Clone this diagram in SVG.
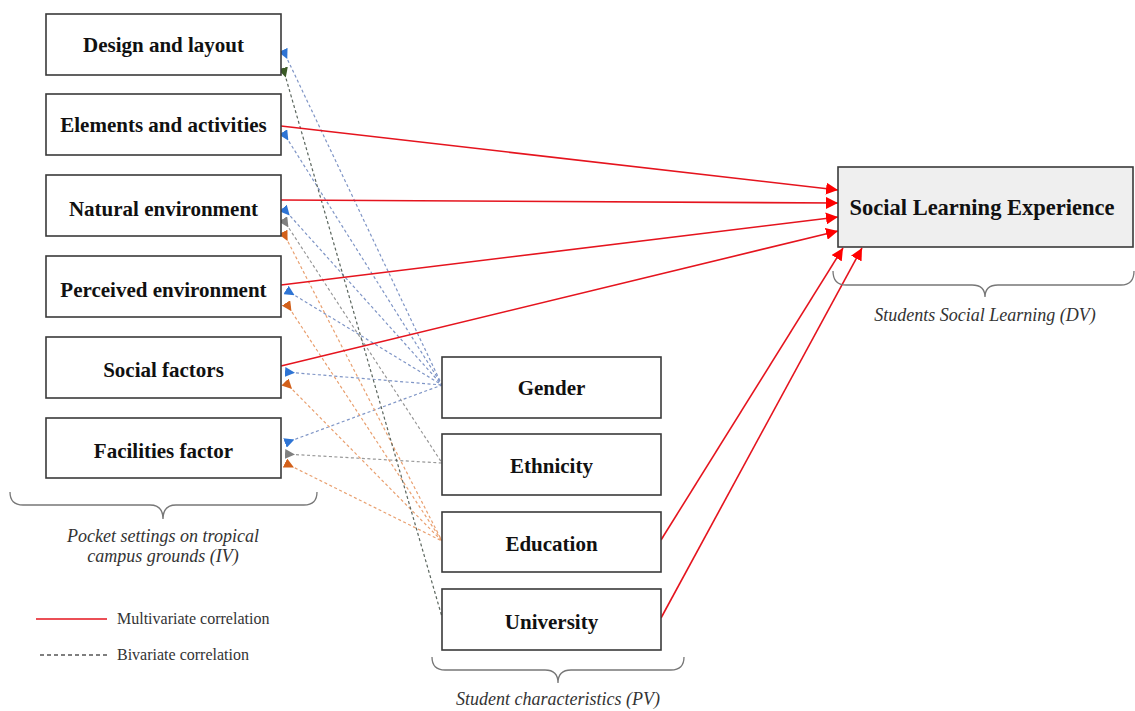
<svg xmlns="http://www.w3.org/2000/svg" width="1135" height="711" viewBox="0 0 1135 711">
<style>
.box{fill:#fff;stroke:#3a3a3a;stroke-width:1.6}
.dv{fill:#efefef;stroke:#3a3a3a;stroke-width:1.6}
.lbl{font-family:"Liberation Serif","Times New Roman",serif;font-weight:bold;font-size:21px;fill:#111;text-anchor:middle}
.big{font-size:22.5px}
.it{font-family:"Liberation Serif","Times New Roman",serif;font-style:italic;font-size:18px;fill:#333;text-anchor:middle}
.leg{font-family:"Liberation Serif","Times New Roman",serif;font-size:16px;fill:#333}
.brace{fill:none;stroke:#777;stroke-width:1.3}
.red{stroke:#e5141e;stroke-width:1.6;fill:none;marker-end:url(#ar)}
.d{fill:none;stroke-width:1.2;stroke-dasharray:3 2.5}
.b{stroke:#7f95c6;marker-start:url(#mb)}
.g{stroke:#999;marker-start:url(#mg)}
.o{stroke:#e9a070;marker-start:url(#mo)}
.k{stroke:#5b665e;marker-start:url(#mk)}
</style>
<defs>
<marker id="ar" viewBox="0 0 10 10" refX="10" refY="5" markerWidth="12" markerHeight="12" markerUnits="userSpaceOnUse" orient="auto"><path d="M0,0L10,5L0,10z" fill="#ff0000"/></marker>
<marker id="mb" viewBox="0 0 10 10" refX="0" refY="5" markerWidth="10" markerHeight="10" markerUnits="userSpaceOnUse" orient="auto"><path d="M0,0L10,5L0,10z" fill="#2e74d4"/></marker>
<marker id="mg" viewBox="0 0 10 10" refX="0" refY="5" markerWidth="10" markerHeight="10" markerUnits="userSpaceOnUse" orient="auto"><path d="M0,0L10,5L0,10z" fill="#7f7f7f"/></marker>
<marker id="mo" viewBox="0 0 10 10" refX="0" refY="5" markerWidth="10" markerHeight="10" markerUnits="userSpaceOnUse" orient="auto"><path d="M0,0L10,5L0,10z" fill="#d2601a"/></marker>
<marker id="mk" viewBox="0 0 10 10" refX="0" refY="5" markerWidth="10" markerHeight="10" markerUnits="userSpaceOnUse" orient="auto"><path d="M0,0L10,5L0,10z" fill="#3b5a26"/></marker>
</defs>
<rect width="1135" height="711" fill="#fff"/>

<g id="connectors">
<line class="d b" x1="283" y1="50" x2="442" y2="385"/>
<line class="d b" x1="283" y1="132" x2="442" y2="385"/>
<line class="d b" x1="283" y1="208" x2="442" y2="385"/>
<line class="d b" x1="286" y1="290" x2="442" y2="385"/>
<line class="d b" x1="285" y1="372" x2="442" y2="385"/>
<line class="d b" x1="285" y1="443" x2="442" y2="385"/>
<line class="d g" x1="283" y1="219" x2="442" y2="463"/>
<line class="d g" x1="285" y1="454" x2="442" y2="463"/>
<line class="d o" x1="283" y1="232" x2="442" y2="541"/>
<line class="d o" x1="286" y1="303" x2="442" y2="541"/>
<line class="d o" x1="285" y1="382" x2="442" y2="541"/>
<line class="d o" x1="285" y1="463" x2="442" y2="541"/>
<line class="d k" x1="283" y1="68" x2="442" y2="617"/>
<line class="red" x1="281" y1="126" x2="838" y2="190"/>
<line class="red" x1="281" y1="200" x2="838" y2="203"/>
<line class="red" x1="281" y1="285" x2="838" y2="217"/>
<line class="red" x1="281" y1="366" x2="838" y2="231"/>
<line class="red" x1="661" y1="540" x2="843" y2="248"/>
<line class="red" x1="661" y1="618" x2="862" y2="248"/>
</g>

<g id="n-design"><rect class="box" x="46" y="14" width="235" height="61"/><text class="lbl" x="163.5" y="52">Design and layout</text></g>
<g id="n-elements"><rect class="box" x="46" y="94" width="235" height="61"/><text class="lbl" x="163.5" y="132">Elements and activities</text></g>
<g id="n-natural"><rect class="box" x="46" y="175" width="235" height="61"/><text class="lbl" x="163.5" y="216">Natural environment</text></g>
<g id="n-perceived"><rect class="box" x="46" y="256" width="235" height="61"/><text class="lbl" x="163.5" y="297">Perceived environment</text></g>
<g id="n-social"><rect class="box" x="46" y="337" width="235" height="61"/><text class="lbl" x="163.5" y="377">Social factors</text></g>
<g id="n-facilities"><rect class="box" x="46" y="418" width="235" height="60"/><text class="lbl" x="163.5" y="458">Facilities factor</text></g>

<g id="n-gender"><rect class="box" x="442" y="357" width="219" height="61"/><text class="lbl" x="551.5" y="395">Gender</text></g>
<g id="n-ethnicity"><rect class="box" x="442" y="434" width="219" height="61"/><text class="lbl" x="551.5" y="473">Ethnicity</text></g>
<g id="n-education"><rect class="box" x="442" y="512" width="219" height="60"/><text class="lbl" x="551.5" y="551">Education</text></g>
<g id="n-university"><rect class="box" x="442" y="589" width="219" height="61"/><text class="lbl" x="551.5" y="629">University</text></g>

<g id="n-sle"><rect class="dv" x="838" y="167" width="295" height="80"/><text class="lbl big" x="982" y="215">Social Learning Experience</text></g>

<g id="braces">
<path class="brace" d="M10,492 Q10,505 23,505 L150,505 Q163,505 163,519 Q163,505 176,505 L304,505 Q317,505 317,492"/>
<path class="brace" d="M432,657 Q432,670 445,670 L545,670 Q558,670 558,683 Q558,670 571,670 L671,670 Q684,670 684,657"/>
<path class="brace" d="M833,271 Q833,285 846,285 L972,285 Q985,285 985,297 Q985,285 998,285 L1121,285 Q1134,285 1134,271"/>
</g>

<g id="labels">
<text class="it" x="163" y="542">Pocket settings on tropical</text>
<text class="it" x="163" y="562">campus grounds (IV)</text>
<text class="it" x="558" y="705">Student characteristics (PV)</text>
<text class="it" x="985" y="321">Students Social Learning (DV)</text>
</g>

<g id="legend">
<line x1="36" y1="619" x2="107" y2="619" stroke="#e5141e" stroke-width="1.6"/>
<text class="leg" x="117" y="624">Multivariate correlation</text>
<line x1="40" y1="655" x2="107" y2="655" stroke="#555" stroke-width="1.3" stroke-dasharray="4 3"/>
<text class="leg" x="117" y="660">Bivariate correlation</text>
</g>
</svg>
